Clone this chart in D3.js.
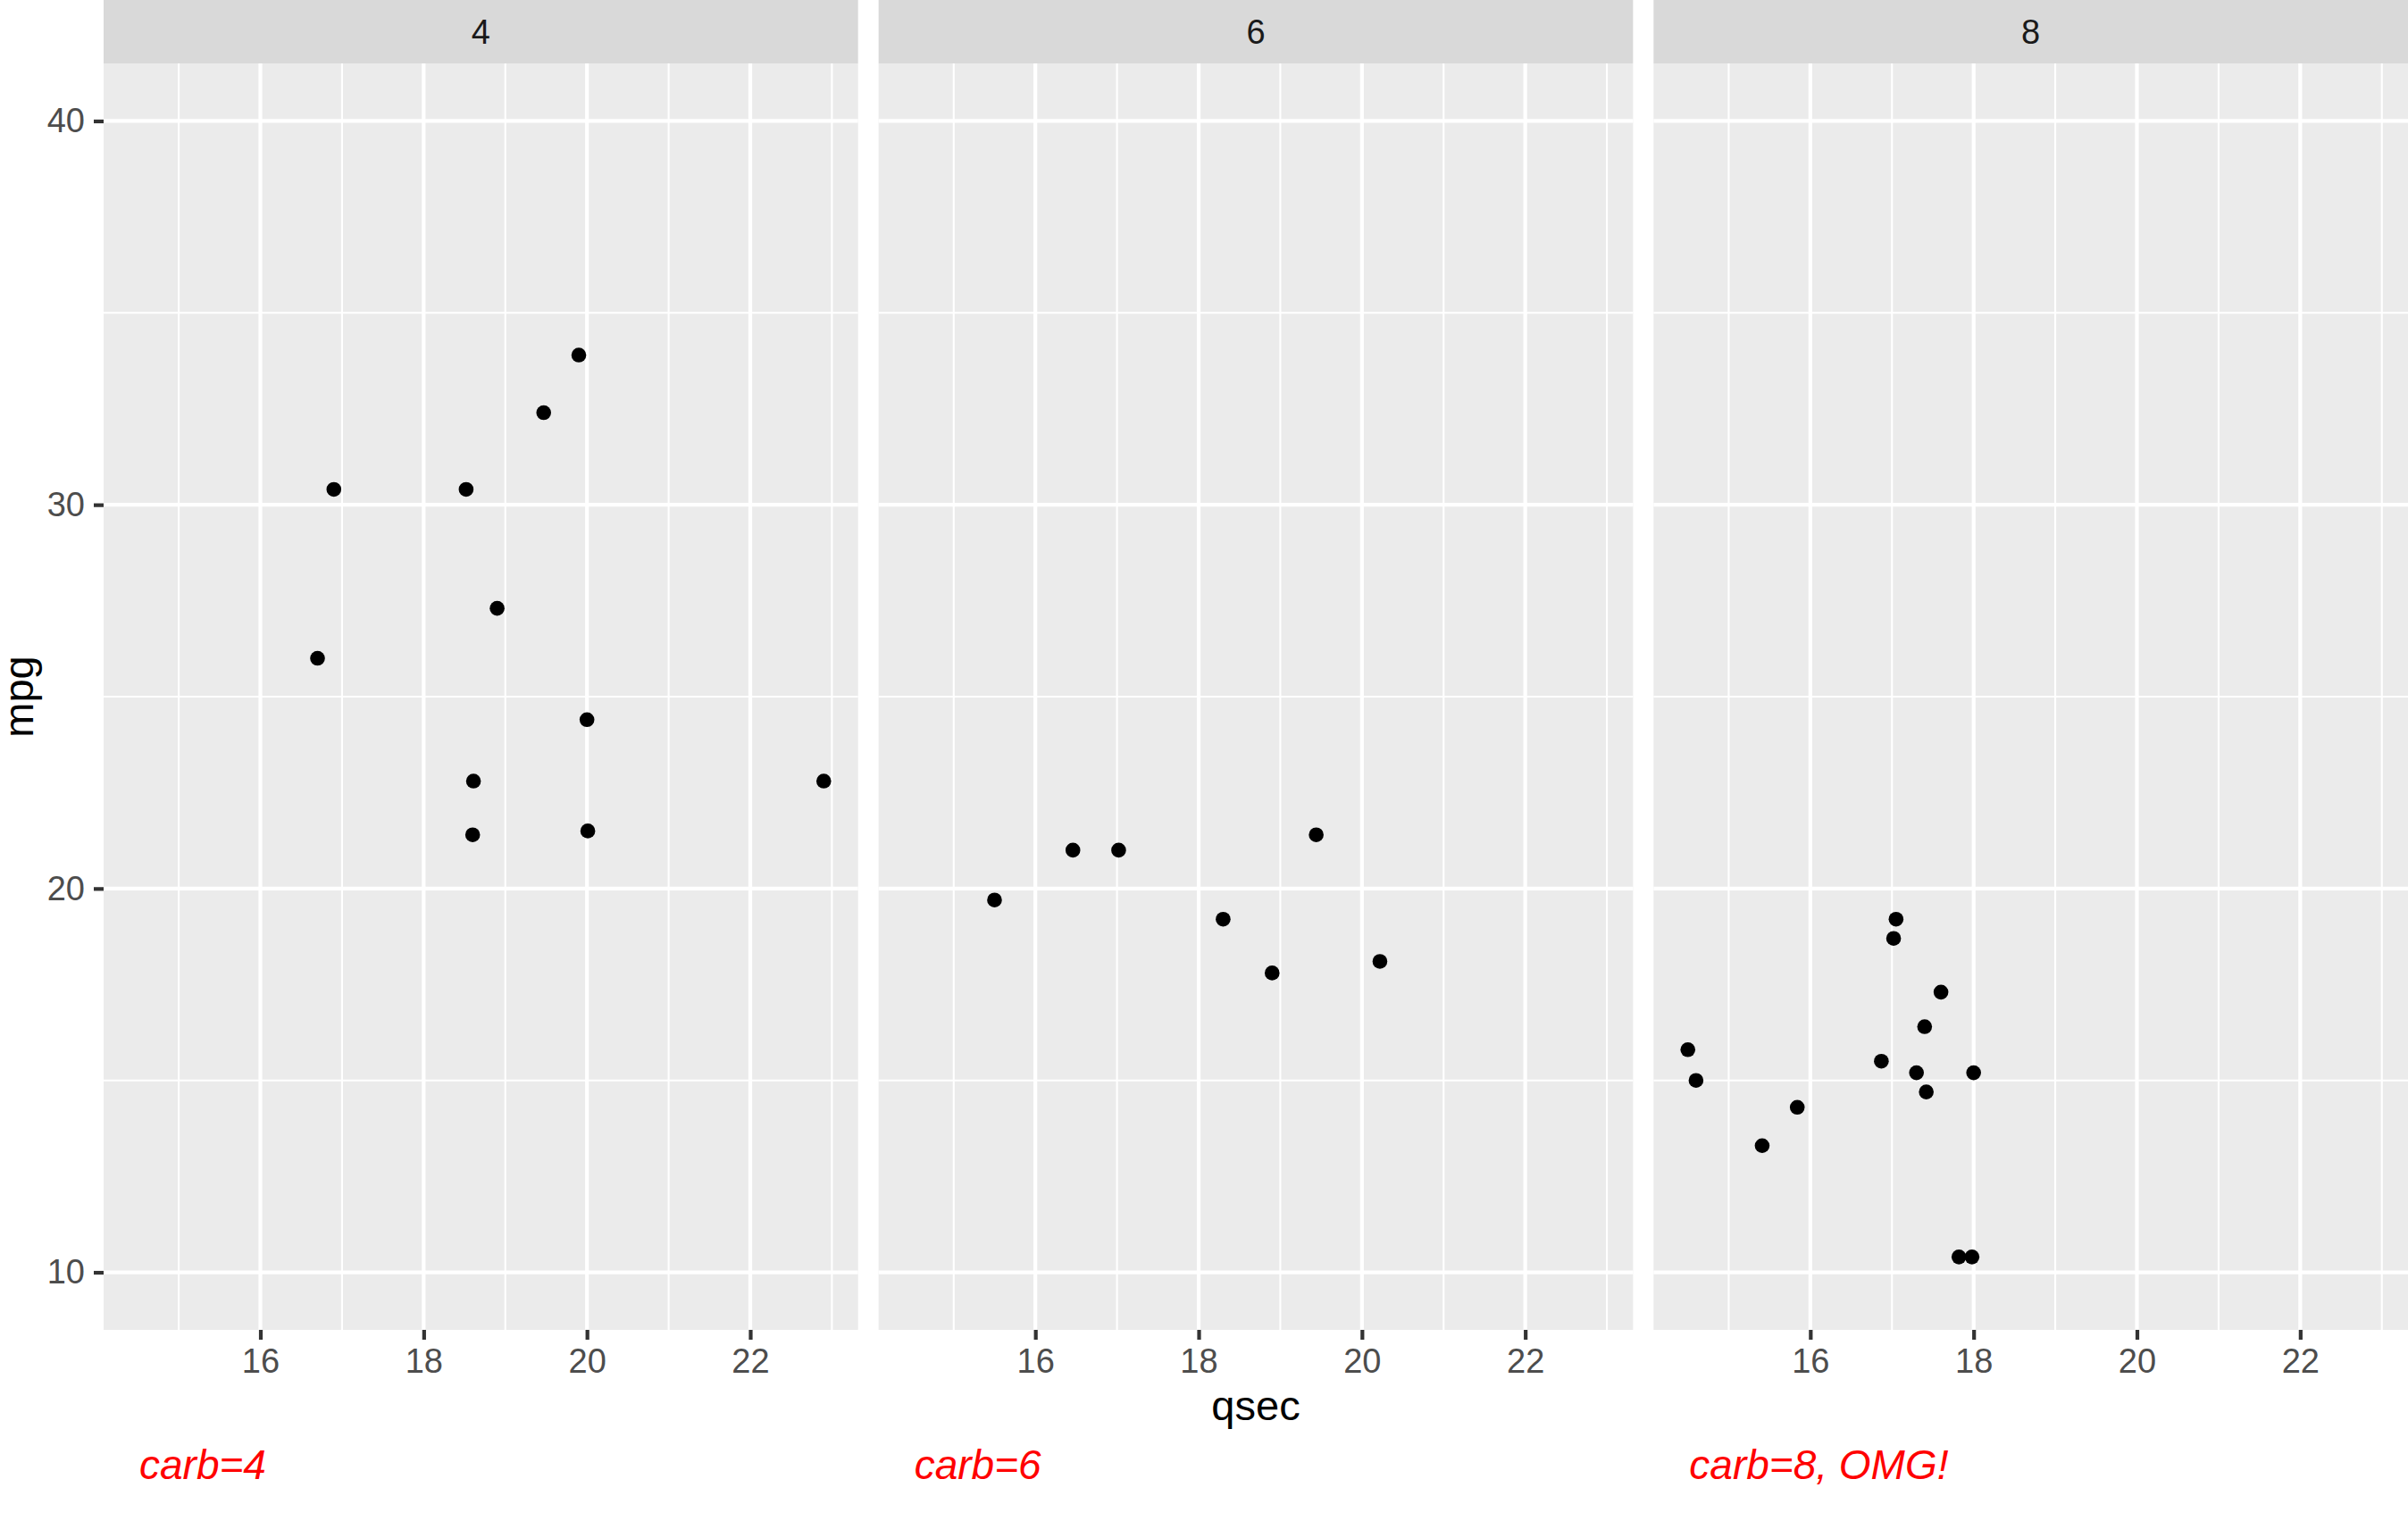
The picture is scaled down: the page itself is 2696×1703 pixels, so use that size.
<!DOCTYPE html>
<html>
<head>
<meta charset="utf-8">
<script src="https://cdn.jsdelivr.net/npm/d3@7"></script>
<style>
  body { margin: 0; background: #fff; }
  svg { display: block; font-family: "Liberation Sans", Arial, sans-serif; }
</style>
</head>
<body>
<div id="chart"></div>
<script>
// mtcars: qsec vs mpg, faceted by cyl
var cyl  = [6, 6, 4, 6, 8, 6, 8, 4, 4, 6, 6, 8, 8, 8, 8, 8, 8, 4, 4, 4, 4, 8, 8, 8, 8, 4, 4, 4, 8, 6, 8, 4];
var qsec = [16.46, 17.02, 18.61, 19.44, 17.02, 20.22, 15.84, 20.00, 22.90, 18.30, 18.90, 17.40, 17.60, 18.00, 17.98, 17.82,
            17.42, 19.47, 18.52, 19.90, 20.01, 16.87, 17.30, 15.41, 17.05, 18.90, 16.70, 16.90, 14.50, 15.50, 14.60, 18.60];
var mpg  = [21.0, 21.0, 22.8, 21.4, 18.7, 18.1, 14.3, 24.4, 22.8, 19.2, 17.8, 16.4, 17.3, 15.2, 10.4, 10.4,
            14.7, 32.4, 30.4, 33.9, 21.5, 15.5, 15.2, 13.3, 19.2, 27.3, 26.0, 30.4, 15.8, 19.7, 15.0, 21.4];

var facets = [4, 6, 8];
var captions = ["carb=4", "carb=6", "carb=8, OMG!"];
var xTicks = [16, 18, 20, 22];
var xMinor = [15, 17, 19, 21, 23];
var yTicks = [10, 20, 30, 40];
var yMinor = [15, 25, 35];

var width = 2696, height = 1703;
var margin = {top: 0, right: 0, bottom: 214, left: 116};
var stripH = 71, gap = 23;
var panelW = (width - margin.left - margin.right - gap * (facets.length - 1)) / facets.length;
var panelTop = margin.top + stripH;
var panelBottom = height - margin.bottom;

var svg = d3.select("#chart").append("svg")
    .attr("width", width)
    .attr("height", height);

// shared scales (ggplot expands 5% each side)
var xLo = d3.min(qsec), xHi = d3.max(qsec), xPad = (xHi - xLo) * 0.05;
var xScale = d3.scaleLinear()
    .domain([xLo - xPad, xHi + xPad])
    .range([0, panelW]);

var yScale = d3.scaleLinear()
    .domain([10 - 1.5, 40 + 1.5])
    .range([panelBottom, panelTop]);

facets.forEach(function(f, i) {
  var x0 = margin.left + i * (panelW + gap);
  var g = svg.append("g").attr("transform", `translate(${x0},0)`);

  // strip
  g.append("rect")
    .attr("x", 0).attr("y", margin.top)
    .attr("width", panelW).attr("height", stripH)
    .attr("fill", "#D9D9D9");
  g.append("text")
    .attr("x", panelW / 2).attr("y", margin.top + stripH / 2)
    .attr("dy", "0.36em")
    .attr("text-anchor", "middle")
    .attr("fill", "#1A1A1A")
    .style("font-size", "38px")
    .text(f);

  // panel background
  g.append("rect")
    .attr("x", 0).attr("y", panelTop)
    .attr("width", panelW).attr("height", panelBottom - panelTop)
    .attr("fill", "#EBEBEB");

  // grid: minor then major
  g.selectAll(".vminor").data(xMinor.filter(function(v) { return xScale(v) <= panelW; })).enter()
    .append("line")
    .attr("x1", function(d) { return xScale(d); }).attr("x2", function(d) { return xScale(d); })
    .attr("y1", panelTop).attr("y2", panelBottom)
    .attr("stroke", "#fff").attr("stroke-width", 2.1);
  g.selectAll(".hminor").data(yMinor).enter()
    .append("line")
    .attr("x1", 0).attr("x2", panelW)
    .attr("y1", function(d) { return yScale(d); }).attr("y2", function(d) { return yScale(d); })
    .attr("stroke", "#fff").attr("stroke-width", 2.1);
  g.selectAll(".vmajor").data(xTicks).enter()
    .append("line")
    .attr("x1", function(d) { return xScale(d); }).attr("x2", function(d) { return xScale(d); })
    .attr("y1", panelTop).attr("y2", panelBottom)
    .attr("stroke", "#fff").attr("stroke-width", 4.2);
  g.selectAll(".hmajor").data(yTicks).enter()
    .append("line")
    .attr("x1", 0).attr("x2", panelW)
    .attr("y1", function(d) { return yScale(d); }).attr("y2", function(d) { return yScale(d); })
    .attr("stroke", "#fff").attr("stroke-width", 4.2);

  // x axis
  var xAxis = d3.axisBottom(xScale).tickValues(xTicks).tickSize(11).tickPadding(10);
  var xAxisG = g.append("g")
    .attr("transform", `translate(0,${panelBottom})`)
    .call(xAxis);
  xAxisG.select(".domain").remove();
  xAxisG.selectAll(".tick line").attr("stroke", "#333333").attr("stroke-width", 4.2);
  xAxisG.selectAll(".tick text")
    .attr("fill", "#4D4D4D")
    .style("font-size", "38px")
    .style("font-family", "Liberation Sans, Arial, sans-serif");

  // points
  var idx = d3.range(cyl.length).filter(function(k) { return cyl[k] === f; });
  g.selectAll(".pt").data(idx).enter()
    .append("circle")
    .attr("cx", function(k) { return xScale(qsec[k]); })
    .attr("cy", function(k) { return yScale(mpg[k]); })
    .attr("r", 8.3)
    .attr("fill", "#000");

  // red caption under each panel
  g.append("text")
    .attr("x", 40).attr("y", 1656)
    .attr("fill", "red")
    .style("font-size", "46px")
    .style("font-style", "italic")
    .text(captions[i]);
});

// y axis (left panel only)
var yAxis = d3.axisLeft(yScale).tickValues(yTicks).tickSize(11).tickPadding(10);
var yAxisG = svg.append("g")
  .attr("transform", `translate(${margin.left},0)`)
  .call(yAxis);
yAxisG.select(".domain").remove();
yAxisG.selectAll(".tick line").attr("stroke", "#333333").attr("stroke-width", 4.2);
yAxisG.selectAll(".tick text")
  .attr("fill", "#4D4D4D")
  .style("font-size", "38px")
  .style("font-family", "Liberation Sans, Arial, sans-serif");

// axis titles
svg.append("text")
  .attr("x", margin.left + (width - margin.left - margin.right) / 2)
  .attr("y", 1590)
  .attr("text-anchor", "middle")
  .attr("fill", "#000")
  .style("font-size", "47px")
  .text("qsec");

svg.append("text")
  .attr("transform", `translate(37,${(panelTop + panelBottom) / 2}) rotate(-90)`)
  .attr("text-anchor", "middle")
  .attr("fill", "#000")
  .style("font-size", "47px")
  .text("mpg");
</script>
</body>
</html>
